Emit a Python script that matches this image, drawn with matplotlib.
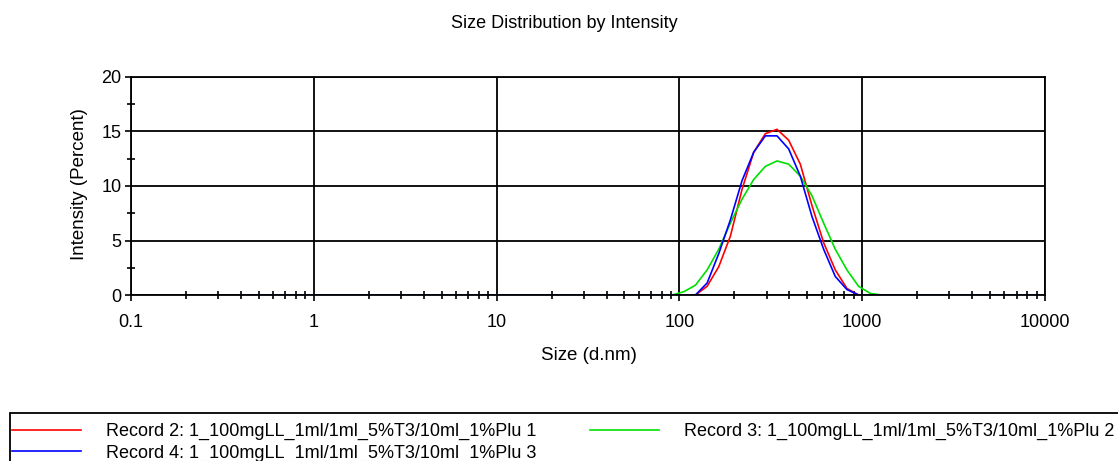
import numpy as np
import matplotlib.pyplot as plt
from matplotlib.patches import Rectangle
from matplotlib.ticker import LogLocator, NullFormatter, FixedLocator, FixedFormatter

plt.rcParams['font.family'] = ['Liberation Sans', 'DejaVu Sans']

# size classes (d.nm)
size = [0.4, 0.4632, 0.5365, 0.6213, 0.7195, 0.8332, 0.9649, 1.117, 1.294, 1.499,
        1.736, 2.010, 2.328, 2.696, 3.122, 3.615, 4.187, 4.849, 5.615, 6.503,
        7.531, 8.721, 10.10, 11.70, 13.54, 15.69, 18.17, 21.04, 24.36, 28.21,
        32.67, 37.84, 43.82, 50.75, 58.77, 68.06, 78.82, 91.28, 105.7, 122.4,
        141.8, 164.2, 190.1, 220.2, 255.0, 295.3, 342.0, 396.1, 458.7, 531.2,
        615.1, 712.4, 825.0, 955.4, 1106, 1281, 1484, 1718, 1990, 2305,
        2669, 3091, 3580, 4145, 4801, 5560, 6439, 7456, 8635, 10000]

# intensity (%) for the non-zero classes, 91.28 nm upward
rec2_peak = [0.0, 0.0, 0.0, 0.8, 2.6, 5.4, 9.7, 13.1, 14.8, 15.2, 14.2, 12.0, 8.2,
             4.8, 2.3, 0.6, 0.0, 0.0]
rec3_peak = [0.0, 0.3, 0.9, 2.3, 4.2, 6.6, 8.8, 10.6, 11.8, 12.3, 12.0, 10.9, 9.1,
             6.6, 4.2, 2.3, 0.8, 0.15, 0.0]
rec4_peak = [0.0, 0.0, 0.0, 1.1, 3.8, 6.9, 10.5, 13.1, 14.6, 14.6, 13.4, 10.9, 7.2,
             4.2, 1.7, 0.5, 0.0, 0.0]

labels = ['Record 2: 1_100mgLL_1ml/1ml_5%T3/10ml_1%Plu 1',
          'Record 3: 1_100mgLL_1ml/1ml_5%T3/10ml_1%Plu 2',
          'Record 4: 1_100mgLL_1ml/1ml_5%T3/10ml_1%Plu 3']


def full(peak):
    # pad the peak with zeros on both sides up to the full size range
    start = size.index(91.28)
    arr = np.zeros(len(size))
    arr[start:start + len(peak)] = peak
    return arr


W, H = 1118, 461
fig = plt.figure(figsize=(W / 100, H / 100), dpi=100)
ax = fig.add_axes([131 / W, 1 - 295 / H, (1045 - 131) / W, (295 - 77) / H])

l2, = ax.plot(size, full(rec2_peak), color='#ff0000', lw=1.2)
l3, = ax.plot(size, full(rec3_peak), color='#00e000', lw=1.2)
l4, = ax.plot(size, full(rec4_peak), color='#0000ff', lw=1.2)

ax.set_xscale('log')
ax.set_xlim(0.1, 10000)
ax.set_ylim(0, 20)
ax.xaxis.set_major_locator(FixedLocator([0.1, 1, 10, 100, 1000, 10000]))
ax.xaxis.set_major_formatter(FixedFormatter(['0.1', '1', '10', '100', '1000', '10000']))
ax.xaxis.set_minor_locator(LogLocator(base=10, subs=np.arange(2, 10)))
ax.xaxis.set_minor_formatter(NullFormatter())
ax.set_yticks([0, 5, 10, 15, 20])
ax.set_yticks([2.5, 7.5, 12.5, 17.5], minor=True)

ax.grid(True, which='major', color='black', lw=1.3)
ax.set_axisbelow(True)
for s in ax.spines.values():
    s.set_color('black')
    s.set_linewidth(1.3)

ax.tick_params(which='major', direction='out', length=4, width=1.2, labelsize=13)
ax.tick_params(axis='x', which='major', pad=10)
ax.tick_params(axis='y', which='major', pad=3)
ax.tick_params(which='minor', direction='inout', length=6, width=1.2)

fig.text(564 / W, 1 - 23 / H, 'Size Distribution by Intensity', fontsize=13,
         ha='center', va='center')
fig.text(589 / W, 1 - 355 / H, 'Size (d.nm)', fontsize=13.5, ha='center', va='center')
fig.text(80 / W, 1 - 184 / H, 'Intensity (Percent)', fontsize=13.5, rotation=90,
         ha='center', va='center')

# legend box: runs off the right and bottom edges
fig.patches.append(Rectangle((10 / W, -0.05), 1.1, 1.05 - 413 / H,
                             transform=fig.transFigure, fill=False,
                             edgecolor='black', lw=1.3))
leg = fig.legend([l2, l4, l3], [labels[0], labels[2], labels[1]], ncol=2,
                 loc='upper left', bbox_to_anchor=(12 / W, 1 - 423 / H),
                 frameon=False, fontsize=13,
                 handlelength=3.8, handletextpad=1.4, columnspacing=3.0,
                 borderpad=0, labelspacing=0.25, borderaxespad=0)

fig.savefig('out.png', dpi=100)
